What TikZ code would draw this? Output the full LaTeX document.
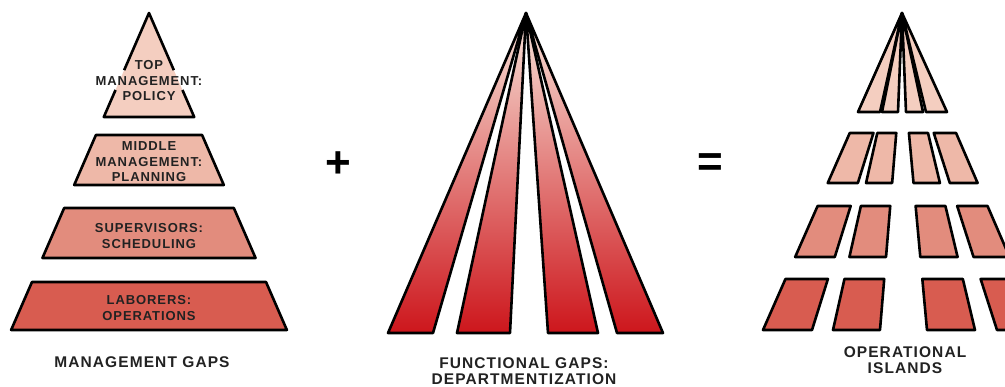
\documentclass[tikz,border=0pt]{standalone}
\usepackage{fontspec}
\setmainfont{Liberation Sans}
\newfontfamily\gapfont[LetterSpace=7]{Liberation Sans}
\usetikzlibrary{calc}
\definecolor{tierone}{RGB}{244,206,192}
\definecolor{tiertwo}{RGB}{238,184,168}
\definecolor{tierthree}{RGB}{226,140,125}
\definecolor{tierfour}{RGB}{216,92,80}
\definecolor{rayhi}{RGB}{248,228,218}
\definecolor{raymid}{RGB}{232,112,106}
\definecolor{raylo}{RGB}{205,22,28}
\definecolor{ink}{RGB}{34,34,34}
\begin{document}
\begin{tikzpicture}[x=1pt, y=-1pt, line join=round,
  edge/.style={draw=black, line width=2.6pt},
  ray/.style={edge, top color=rayhi, middle color=raymid, bottom color=raylo},
  tierlabel/.style={font=\gapfont\bfseries\fontsize{13}{15.5}\selectfont, align=center, text=ink, inner sep=0pt},
  caption/.style={font=\gapfont\bfseries\fontsize{15.5}{15.5}\selectfont, align=center, text=ink, inner sep=0pt},
  sign/.style={font=\bfseries\fontsize{44}{44}\selectfont, text=black, inner sep=0pt}]
  \useasboundingbox (0,0) rectangle (1005,387);
  \clip (0,0) rectangle (1005,387);

  % management gaps
  \coordinate (lapex) at (149,13);
  \coordinate (lbl) at (103.8,117);
  \coordinate (lbr) at (194.2,117);
  \fill[tierone] (lapex) -- (lbl) -- (lbr) -- cycle;
  \draw[edge] ($(lapex)!0.55!(lbl)$) -- (lapex) -- ($(lapex)!0.55!(lbr)$);
  \draw[edge] ($(lapex)!0.74!(lbl)$) -- (lbl) -- (lbr) -- ($(lapex)!0.74!(lbr)$);
  \foreach \yt/\yb/\col in {135/185/tiertwo, 208/258/tierthree, 282/330/tierfour}
    \draw[edge, fill=\col] ({149-0.435*(\yt-13)},\yt) -- ({149+0.435*(\yt-13)},\yt)
      -- ({149+0.435*(\yb-13)},\yb) -- ({149-0.435*(\yb-13)},\yb) -- cycle;
  \node[tierlabel] (policy) at (149,81) {TOP\\MANAGEMENT:\\POLICY};
  \node[tierlabel] (planning) at (149,162) {MIDDLE\\MANAGEMENT:\\PLANNING};
  \node[tierlabel] (scheduling) at (149,236) {SUPERVISORS:\\SCHEDULING};
  \node[tierlabel] (operations) at (149,308) {LABORERS:\\OPERATIONS};
  \node[caption] (mgaps) at (142,362) {MANAGEMENT GAPS};

  \node[sign] (plus) at (338,165) {+};

  % functional gaps
  \coordinate (mapex) at (526,13);
  \foreach \a/\b in {388/433, 457/510, 548/598, 617/663}
    \draw[ray] (mapex) -- (\a,333) -- (\b,333) -- cycle;
  \node[caption] (fgaps) at (524,371) {FUNCTIONAL GAPS:\\DEPARTMENTIZATION};

  \node[sign] (equals) at (710,165) {=};

  % operational islands
  \coordinate (rapex) at (902,13);
  \foreach \a/\b in {858/880, 882/898, 906/923, 926/947}
    \draw[edge, fill=tierone] (rapex) -- (\a,112) -- (\b,112) -- cycle;
  \foreach \yt/\yb/\col in {133/183/tiertwo, 206/257/tierthree, 279/330/tierfour}
    \foreach \a/\b/\c/\d in {859/880/763/812, 882/898/833/880, 907/923/927/975, 927/947/997/1041}
      \draw[edge, fill=\col] ($(\a,112)!{(\yt-112)/218}!(\c,330)$) -- ($(\b,112)!{(\yt-112)/218}!(\d,330)$)
        -- ($(\b,112)!{(\yb-112)/218}!(\d,330)$) -- ($(\a,112)!{(\yb-112)/218}!(\c,330)$) -- cycle;
  \node[caption] (islands) at (905,360) {OPERATIONAL\\ISLANDS};
\end{tikzpicture}
\end{document}
